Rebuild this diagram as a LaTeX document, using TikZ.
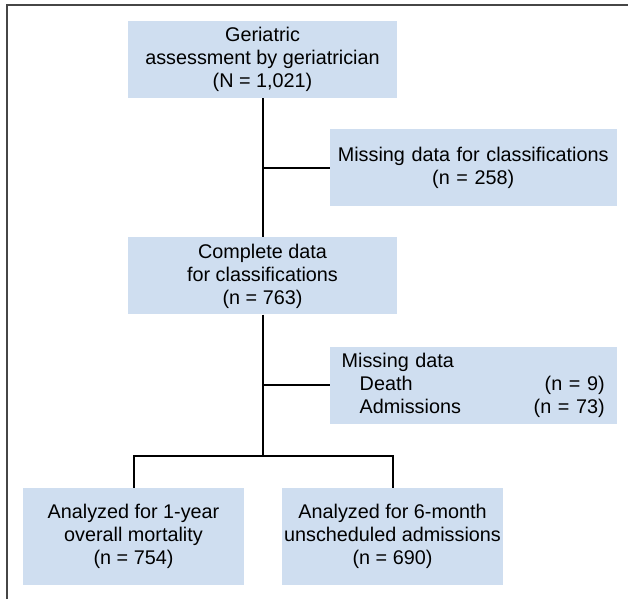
\documentclass[tikz,border=0pt]{standalone}
\usepackage{fontspec}
\setmainfont{Liberation Sans}
\usetikzlibrary{positioning,calc}
\definecolor{boxblue}{RGB}{207,222,240}
\definecolor{framegray}{RGB}{70,70,70}
\tikzset{
    %Define style for boxes in the main column
    flowbox/.style={
           rectangle,
           fill=boxblue,
           inner sep=0pt,
           minimum width=269pt,
           minimum height=77pt,
           align=center,
           font=\fontsize{19.8}{23}\selectfont},
    %Define style for boxes on the side
    sidebox/.style={
           flowbox,
           anchor=west,
           minimum width=0pt,
           inner xsep=8pt,
           text width=271pt},
    %Define style for boxes at the bottom
    endbox/.style={
           flowbox,
           minimum width=221pt,
           minimum height=97pt},
    % Define line style
    link/.style={
           line width=2pt,
           black}
}

\begin{document}
\begin{tikzpicture}[x=1pt,y=1pt]
\useasboundingbox (0,0) rectangle (628,-599);
\draw[framegray, line width=1.8pt] (7,-599) |- (628,-5);
\node [flowbox] (geri) at (262.5,-59.5) {Geriatric\\assessment by geriatrician\\(N = 1,021)};
\node [flowbox, below=139pt of geri] (compl) {Complete data\\for classifications\\(n = 763)};
\coordinate (j1) at ($(geri.south)!0.5!(compl.north)$);
\coordinate [below=141pt of compl.south] (fork);
\coordinate (j2) at ($(compl.south)!0.5!(fork)$);
\node [sidebox, right=67pt of j1] (miss1) {Missing data for classifications\\(n = 258)};
\node [sidebox, align=left, inner xsep=12pt, text width=263pt, right=67pt of j2] (miss2) {Missing data\\
    \hspace*{18pt}Death\hfill(n = 9)\\
    \hspace*{18pt}Admissions\hfill(n = 73)};
\node [endbox, anchor=north, below=32pt of fork, xshift=-129pt] (mort) {Analyzed for 1-year\\overall mortality\\(n = 754)};
\node [endbox, anchor=north, below=32pt of fork, xshift=130pt] (adm) {Analyzed for 6-month\\unscheduled admissions\\(n = 690)};
\draw [link] (geri) -- (compl);
\draw [link] (compl) -- (fork);
\draw [link] (j1) -- (miss1);
\draw [link] (j2) -- (miss2);
\draw [link] (mort.north) |- (fork) -| (adm.north);
\end{tikzpicture}
\end{document}
